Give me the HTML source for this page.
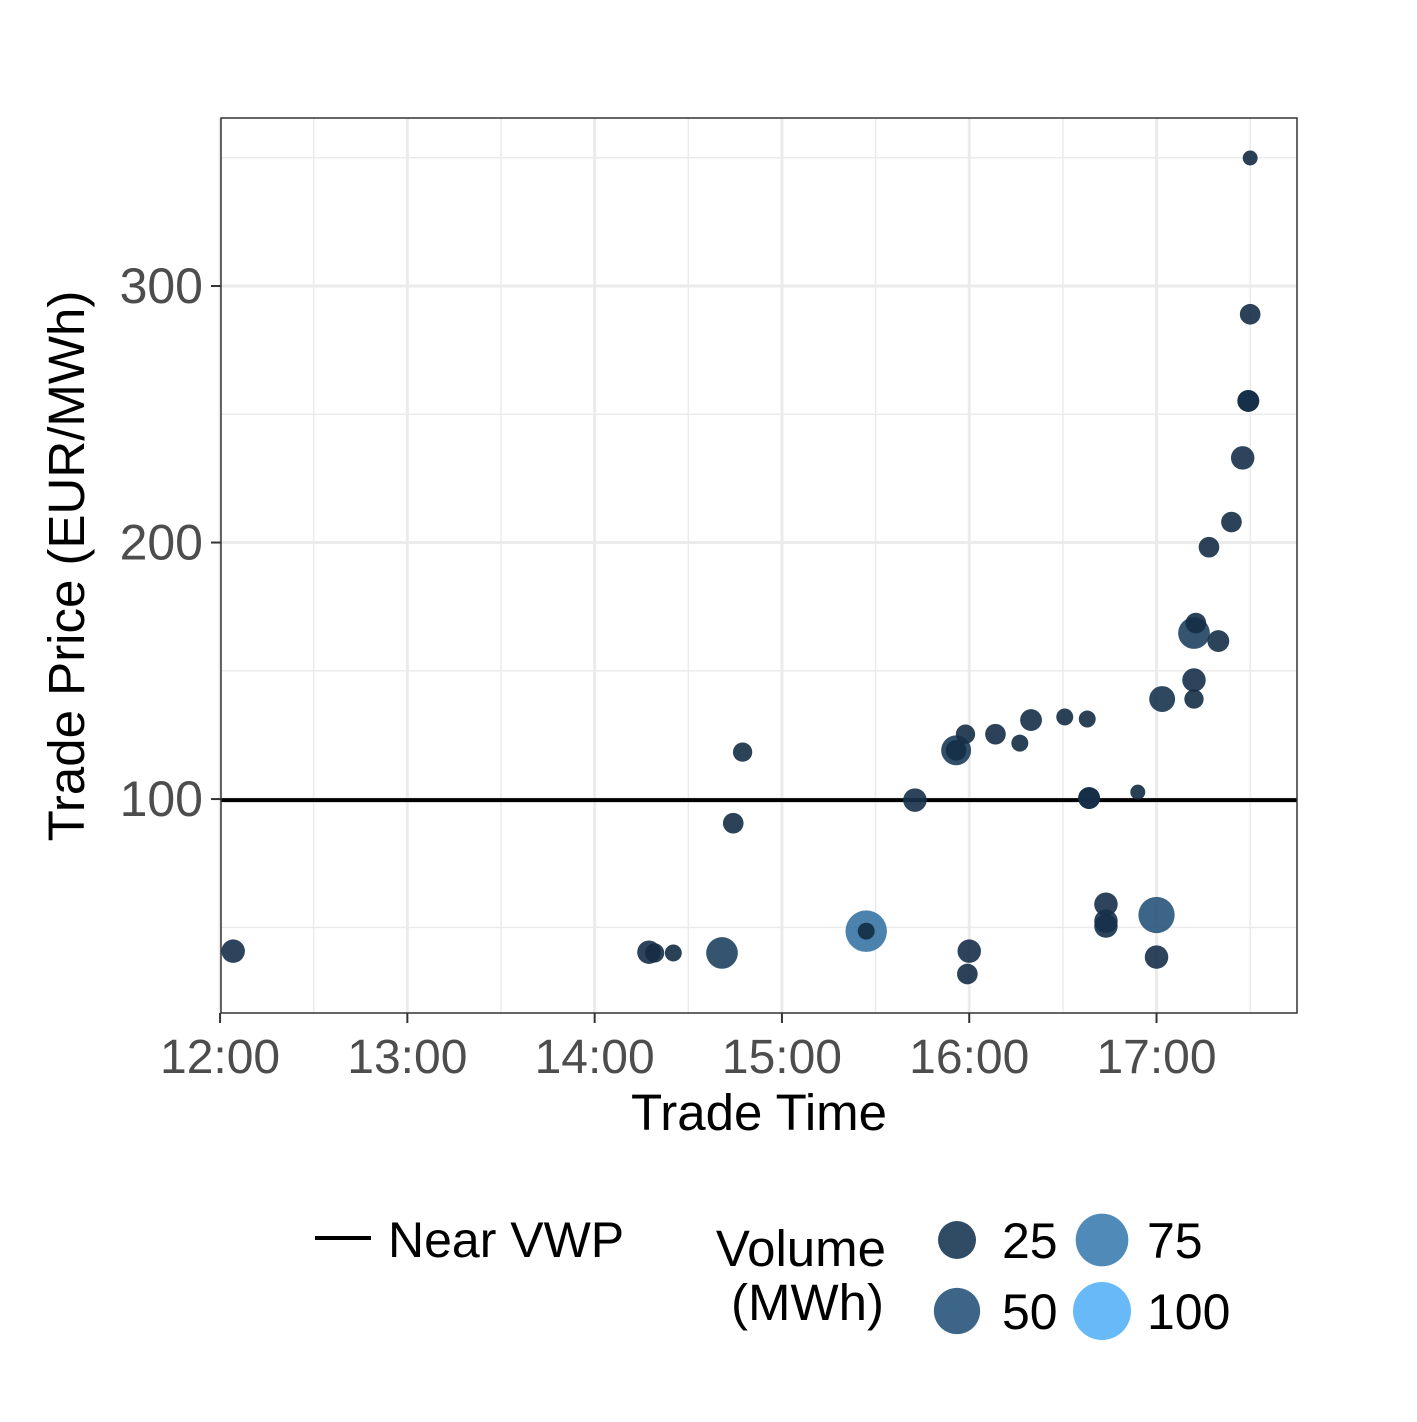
<!DOCTYPE html>
<html><head><meta charset="utf-8"><style>
body{margin:0;background:#fff}
svg text{font-family:"Liberation Sans",Arial,sans-serif}
</style></head><body>
<svg id="chart" width="1417" height="1417" viewBox="0 0 1417 1417" xmlns="http://www.w3.org/2000/svg">
<rect width="1417" height="1417" fill="#fff"/>
<g id="grid"></g>
<g id="vwp"></g>
<g id="points"></g>
<rect x="221" y="118" width="1076" height="895" fill="none" stroke="#333" stroke-width="1.5"/>
<g id="axes"></g>
<text x="759" y="1130" font-size="51" text-anchor="middle" fill="#000">Trade Time</text>
<text transform="translate(84,566) rotate(-90)" font-size="51" text-anchor="middle" fill="#000">Trade Price (EUR/MWh)</text>
<g>
<line x1="315" y1="1238" x2="371" y2="1238" stroke="#000" stroke-width="4"/>
<text x="388" y="1257" font-size="50" fill="#000">Near VWP</text>
</g>
<g id="legend-size">
<text x="886" y="1266" font-size="51" text-anchor="end" fill="#000">Volume</text>
<text x="884" y="1320" font-size="51" text-anchor="end" fill="#000">(MWh)</text>
</g>
</svg>
<script>
const times=[12.07,14.29,14.32,14.42,14.68,14.74,14.79,15.45,15.45,15.71,15.93,15.93,15.98,15.99,16.0,16.14,16.27,16.33,16.51,16.63,16.64,16.64,16.73,16.73,16.73,16.90,17.0,17.0,17.03,17.20,17.20,17.20,17.21,17.33,17.28,17.40,17.46,17.49,17.49,17.50,17.50];
const prices=[40.7,40.3,40,40,40,90.6,118.3,48.5,48.5,99.6,119,119,125.3,31.8,40.7,125.3,121.8,130.8,132,131.2,100.4,100.4,59,50.5,52.4,102.7,54.8,38.4,139,146.4,139,164.7,168.6,161.6,198.2,208,233,255.2,255.2,289,349.9];
const volumes=[15,15,8,5,35,10,8,70,5,15,30,10,8,10,15,10,5,12,5,5,12,12,15,15,15,3,50,15,20,15,8,35,10,12,10,10,15,12,12,10,3];
const xTicks=[12,13,14,15,16,17];
const xTickLabels=["12:00","13:00","14:00","15:00","16:00","17:00"];
const yTicks=[100,200,300];
const vwp=[99.6];
const legendVols=[25,50,75,100];
const NS="http://www.w3.org/2000/svg";
const X0=221,X1=1297,Y0=1013,Y1=118,XMIN=12.005,XMAX=17.75,YMIN=16.6,YMAX=365.5;
const sx=t=>X0+(t-XMIN)/(XMAX-XMIN)*(X1-X0);
const sy=p=>Y0-(p-YMIN)/(YMAX-YMIN)*(Y0-Y1);
function mk(tag,attrs,parent){const e=document.createElementNS(NS,tag);for(const k in attrs)e.setAttribute(k,attrs[k]);parent.appendChild(e);return e;}
function col(v){const a=[0x13,0x2B,0x43],b=[0x56,0xB1,0xF7];const f=Math.pow(Math.max(0,Math.min(1,v/100)),1.7);return`rgb(${a.map((c,i)=>Math.round(c+(b[i]-c)*f)).join(',')})`;}
const rad=v=>4+2*Math.sqrt(v);
const grid=document.getElementById('grid');
for(let h=12;h<=17.5;h+=0.5){const l=mk('line',{x1:sx(h),x2:sx(h),y1:Y1,y2:Y0,stroke:'#ebebeb','stroke-width':h%1?1.5:3},grid);

}
for(let p=50;p<=350;p+=50){const l=mk('line',{x1:X0,x2:X1,y1:sy(p),y2:sy(p),stroke:'#ebebeb','stroke-width':p%100?1.5:3},grid);

}
const vg=document.getElementById('vwp');
const vl=mk('line',{x1:X0,x2:X1,y1:sy(vwp[0]),y2:sy(vwp[0]),stroke:'#000','stroke-width':4},vg);


const pg=document.getElementById('points');
times.forEach((t,i)=>{const c=mk('circle',{cx:sx(t),cy:sy(prices[i]),r:rad(volumes[i]),fill:col(volumes[i]),'fill-opacity':0.9},pg);

});
const ax=document.getElementById('axes');
xTicks.forEach((t,i)=>{mk('line',{x1:sx(t),x2:sx(t),y1:Y0,y2:Y0+10,stroke:'#333','stroke-width':2},ax);
const tx=mk('text',{x:sx(t),y:1073,'font-size':48,'text-anchor':'middle',fill:'#4d4d4d'},ax);tx.textContent=xTickLabels[i];

});
yTicks.forEach(p=>{mk('line',{x1:X0-10,x2:X0,y1:sy(p),y2:sy(p),stroke:'#333','stroke-width':2},ax);
const tx=mk('text',{x:203,y:sy(p)+17,'font-size':50,'text-anchor':'end',fill:'#4d4d4d'},ax);tx.textContent=p;

});
const lg=document.getElementById('legend-size');
const pos=[[957,1240],[957,1311],[1102,1240],[1102,1311]];
legendVols.forEach((v,i)=>{const r=9+2*Math.sqrt(v);
const c=mk('circle',{cx:pos[i][0],cy:pos[i][1],r:r,fill:col(v),'fill-opacity':0.9},lg);


const tx=mk('text',{x:pos[i][0]+45,y:pos[i][1]+18,'font-size':50,fill:'#000'},lg);tx.textContent=v;

});
</script>
</body></html>
